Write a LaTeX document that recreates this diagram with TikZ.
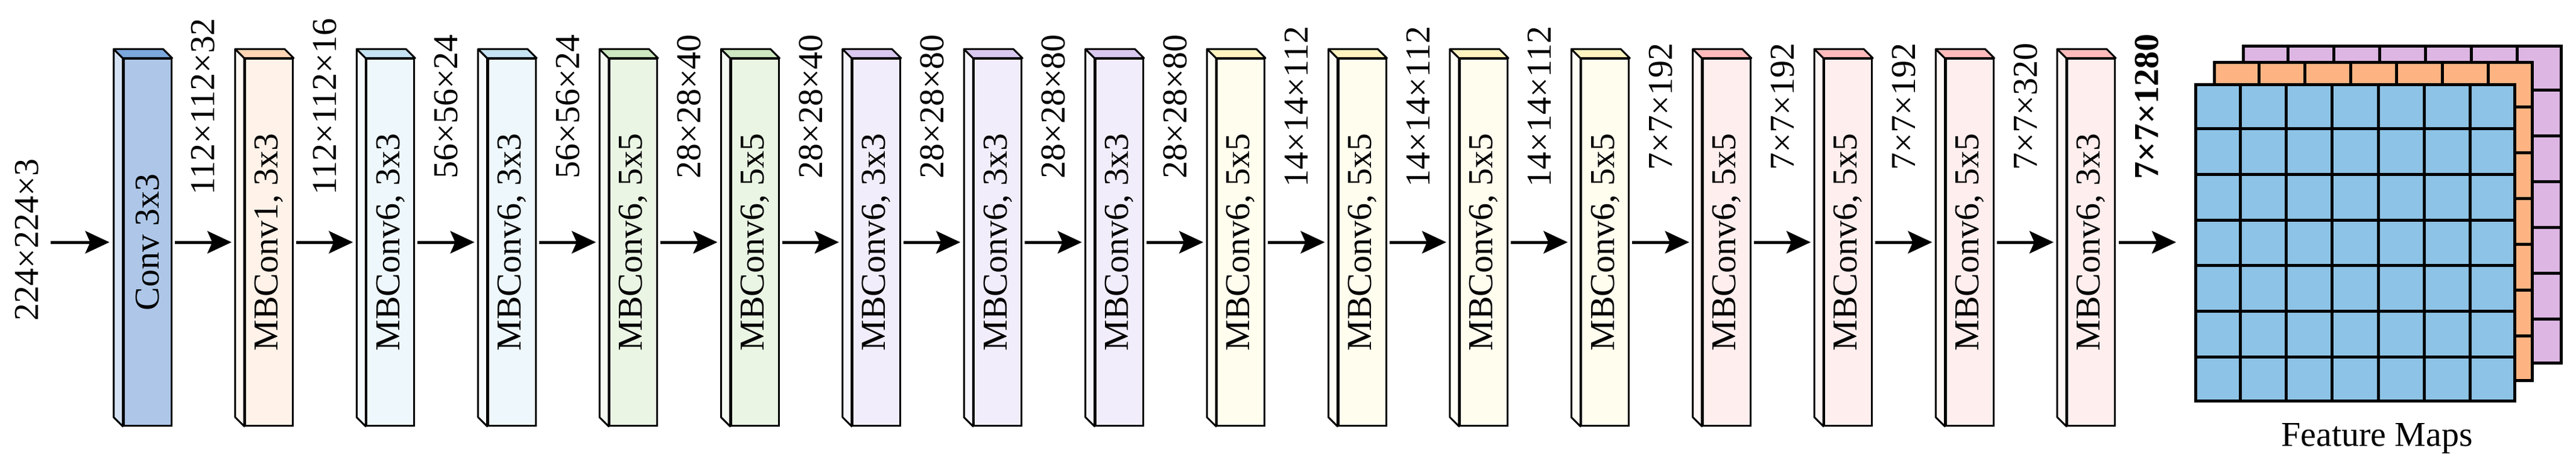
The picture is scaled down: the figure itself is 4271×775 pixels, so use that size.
\documentclass[tikz,border=0pt]{standalone}
\usepackage{fontspec}
\setmainfont{Liberation Serif}
\usetikzlibrary{arrows.meta,calc}
\definecolor{convF}{HTML}{AEC7E8}\definecolor{convT}{HTML}{7BA7DC}\definecolor{convS}{HTML}{D3E1F2}
\definecolor{orF}{HTML}{FFF2E8}\definecolor{orT}{HTML}{FFD5B5}\definecolor{orS}{HTML}{FFF8F3}
\definecolor{blF}{HTML}{EEF7FB}\definecolor{blT}{HTML}{C5E3F3}\definecolor{blS}{HTML}{F6FBFD}
\definecolor{grF}{HTML}{EAF5E4}\definecolor{grT}{HTML}{CDE8C0}\definecolor{grS}{HTML}{F4FAF1}
\definecolor{puF}{HTML}{F2EDFB}\definecolor{puT}{HTML}{D9C8F0}\definecolor{puS}{HTML}{F8F6FD}
\definecolor{yeF}{HTML}{FFFDEE}\definecolor{yeT}{HTML}{FFF4C0}\definecolor{yeS}{HTML}{FFFEF6}
\definecolor{piF}{HTML}{FFEEEE}\definecolor{piT}{HTML}{FFBBBB}\definecolor{piS}{HTML}{FFF6F6}
\definecolor{fmB}{HTML}{8DC3E6}\definecolor{fmO}{HTML}{FDB482}\definecolor{fmP}{HTML}{DDB6E3}
\begin{document}
\begin{tikzpicture}[x=1pt,y=1pt,
  every node/.style={font=\fontsize{58}{66}\selectfont},
  blk/.style={draw,line width=3pt,minimum width=79pt,minimum height=608pt,inner sep=0pt},
  dimlab/.style={rotate=90,inner sep=0pt},
  flow/.style={line width=5pt,-{Stealth[length=40pt,width=37pt,inset=8pt]}},
  grid7/.style={line width=5pt}]
\useasboundingbox (0,0) rectangle (4271,-775);
\node[dimlab] (in) at (45,-398) {224×224×3};
\coordinate (s0) at (84,-402);
\foreach \i/\F/\T/\S/\txt/\lab in {
 1/convF/convT/convS/{Conv 3x3}/{112×112×32},
 2/orF/orT/orS/{MBConv1, 3x3}/{112×112×16},
 3/blF/blT/blS/{MBConv6, 3x3}/{56×56×24},
 4/blF/blT/blS/{MBConv6, 3x3}/{56×56×24},
 5/grF/grT/grS/{MBConv6, 5x5}/{28×28×40},
 6/grF/grT/grS/{MBConv6, 5x5}/{28×28×40},
 7/puF/puT/puS/{MBConv6, 3x3}/{28×28×80},
 8/puF/puT/puS/{MBConv6, 3x3}/{28×28×80},
 9/puF/puT/puS/{MBConv6, 3x3}/{28×28×80},
 10/yeF/yeT/yeS/{MBConv6, 5x5}/{14×14×112},
 11/yeF/yeT/yeS/{MBConv6, 5x5}/{14×14×112},
 12/yeF/yeT/yeS/{MBConv6, 5x5}/{14×14×112},
 13/yeF/yeT/yeS/{MBConv6, 5x5}/{7×7×192},
 14/piF/piT/piS/{MBConv6, 5x5}/{7×7×192},
 15/piF/piT/piS/{MBConv6, 5x5}/{7×7×192},
 16/piF/piT/piS/{MBConv6, 5x5}/{7×7×320},
 17/piF/piT/piS/{MBConv6, 3x3}/{\textbf{7×7×1280}}}{
  \pgfmathsetmacro{\cx}{244.5+201.4*(\i-1)}
  \node[blk,fill=\F] (b\i) at (\cx,-402) {};
  \filldraw[fill=\S,line width=3pt,line join=round] (b\i.north west) -- ++(-15,15) -- ([xshift=-15pt,yshift=15pt]b\i.south west) -- (b\i.south west) -- cycle;
  \filldraw[fill=\T,line width=3pt,line join=round] (b\i.north west) -- ++(-15,15) -- ([xshift=-15pt,yshift=15pt]b\i.north east) -- (b\i.north east) -- cycle;
  \node[rotate=90] (t\i) at (b\i) {\txt};
  \node[dimlab] (d\i) at (\cx+92.5,-177) {\lab};
}
\draw[flow] (s0) -- ([xshift=-22pt]b1.west);
\foreach \i [evaluate=\i as \j using int(\i+1)] in {1,...,16}{
  \draw[flow] ([xshift=4pt]b\i.east) -- ([xshift=-21pt]b\j.west);
}
% feature maps
\node[draw,line width=5pt,fill=fmP,minimum width=527pt,minimum height=526pt,inner sep=0pt,anchor=north west] (fp) at (3717,-74) {};
\foreach \k in {1,...,6}{
  \draw[grid7] ($(fp.north west)!\k/7!(fp.north east)$) -- ($(fp.south west)!\k/7!(fp.south east)$);
  \draw[grid7] ($(fp.north west)!\k/7!(fp.south west)$) -- ($(fp.north east)!\k/7!(fp.south east)$);
}
\node[draw,line width=5pt,fill=fmO,minimum width=527pt,minimum height=528pt,inner sep=0pt,anchor=north west] (fo) at (3669,-101) {};
\foreach \k in {1,...,6}{
  \draw[grid7] ($(fo.north west)!\k/7!(fo.north east)$) -- ($(fo.south west)!\k/7!(fo.south east)$);
  \draw[grid7] ($(fo.north west)!\k/7!(fo.south west)$) -- ($(fo.north east)!\k/7!(fo.south east)$);
}
\node[draw,line width=5pt,fill=fmB,minimum width=529pt,minimum height=525pt,inner sep=0pt,anchor=north west] (fb) at (3638,-138) {};
\foreach \k in {1,...,6}{
  \draw[grid7] ($(fb.north west)!\k/7!(fb.north east)$) -- ($(fb.south west)!\k/7!(fb.south east)$);
  \draw[grid7] ($(fb.north west)!\k/7!(fb.south west)$) -- ($(fb.north east)!\k/7!(fb.south east)$);
}
\draw[flow] ([xshift=5pt]b17.east) -- ([xshift=-30pt]fb.west |- b17.east);
\node (fmlab) at (3941,-728) {Feature Maps};
\end{tikzpicture}
\end{document}
